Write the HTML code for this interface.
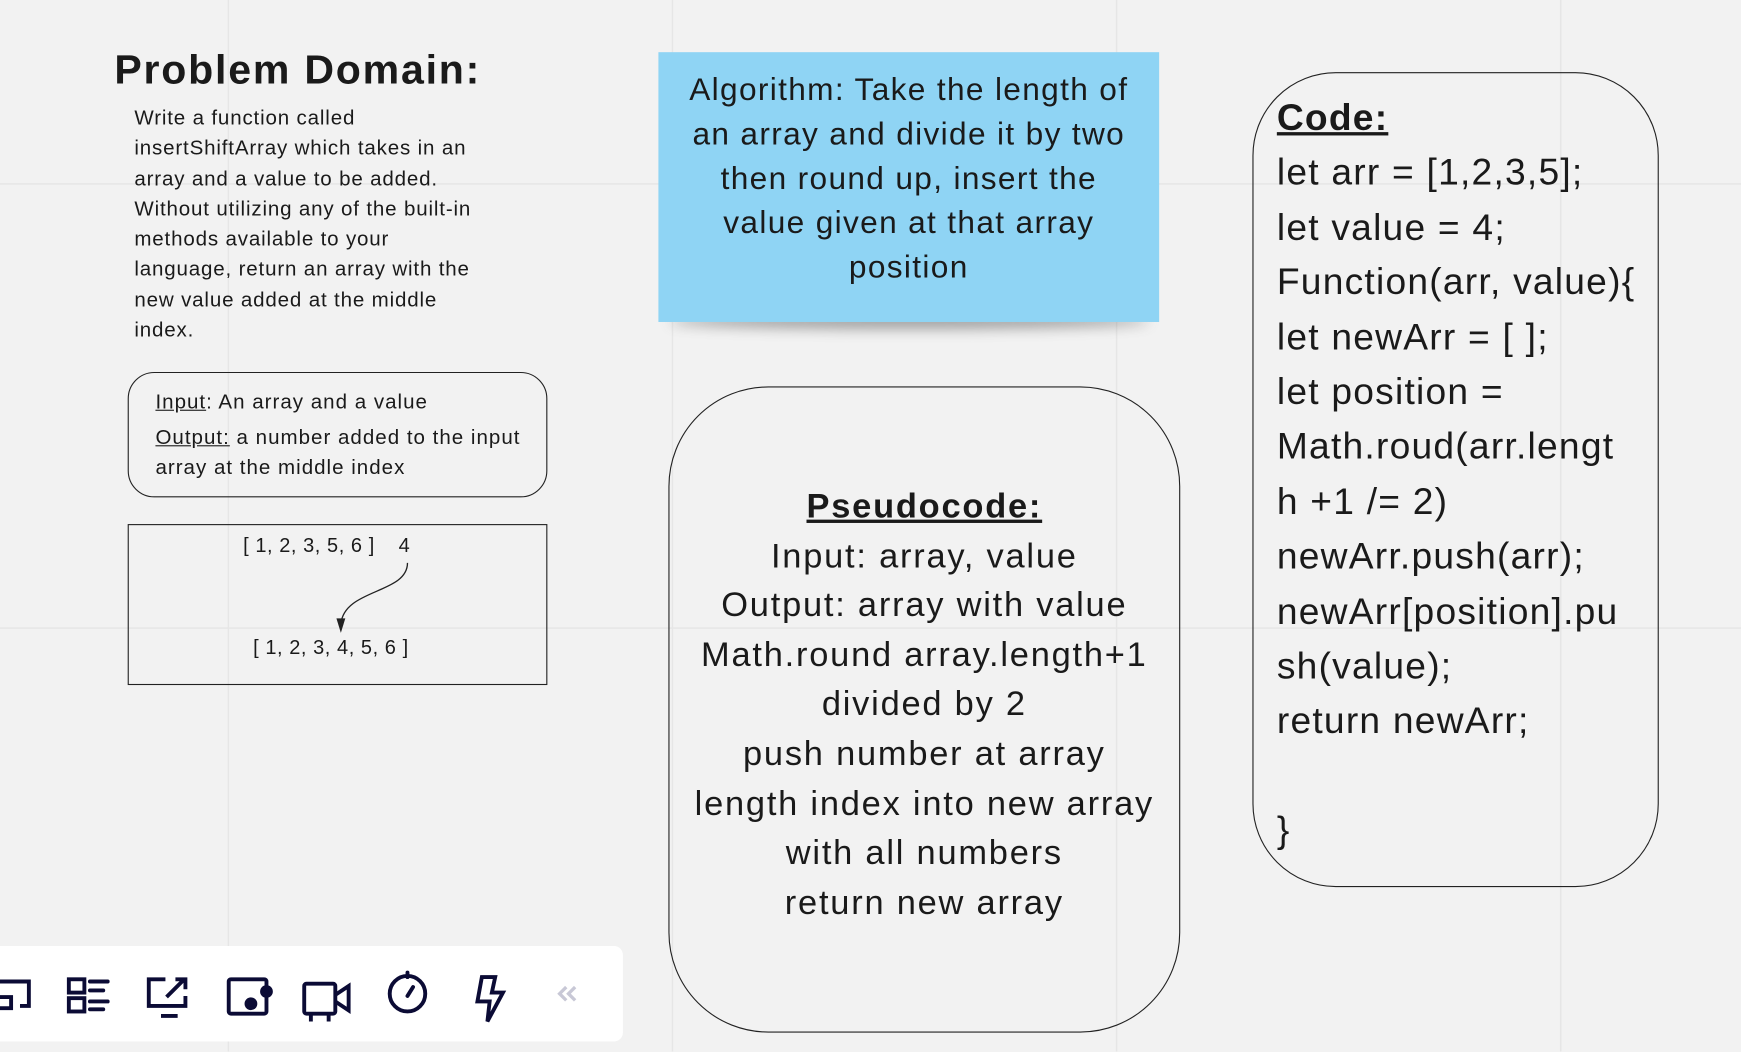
<!DOCTYPE html>
<html><head><meta charset="utf-8"><style>
html,body{margin:0;padding:0;width:1741px;height:1052px;overflow:hidden;background:#f2f2f2;}
#s{position:absolute;left:0;top:0;width:1568px;height:947px;transform:scale(1.1103);transform-origin:0 0;font-family:"Liberation Sans",sans-serif;color:#1a1a1a;
background-image:linear-gradient(to right,#e6e6e6 1.5px,transparent 1.5px),linear-gradient(to bottom,#e6e6e6 1.5px,transparent 1.5px);
background-size:400px 400px;background-position:205px 165px;}
.a{position:absolute;white-space:nowrap;}
.p{position:absolute;left:121px;font-size:18.5px;line-height:27.3px;top:92px;letter-spacing:0.75px;}
.box{position:absolute;border:1.7px solid #222;box-sizing:border-box;}
.c{position:absolute;text-align:center;}
</style></head><body><div id="s">
<div class="a" style="left:103px;top:42px;font-size:37px;font-weight:bold;letter-spacing:1.6px;">Problem Domain:</div>
<div class="p">Write a function called<br>insertShiftArray which takes in an<br>array and a value to be added.<br>Without utilizing any of the built-in<br>methods available to your<br>language, return an array with the<br>new value added at the middle<br>index.</div>

<div class="box" style="left:115px;top:335px;width:378px;height:113px;border-radius:24px;"></div>
<div class="a" style="left:140px;top:348px;font-size:18.5px;line-height:27px;letter-spacing:0.9px;"><u>Input</u>: An array and a value</div>
<div class="a" style="left:140px;top:380px;font-size:18.5px;line-height:27px;letter-spacing:0.9px;"><u>Output:</u> a number added to the input<br>array at the middle index</div>

<div class="box" style="left:115px;top:472px;width:378px;height:145px;border-radius:0;"></div>
<div class="a" style="left:219px;top:481px;font-size:18px;letter-spacing:0.5px;">[ 1, 2, 3, 5, 6 ]</div>
<div class="a" style="left:359px;top:481px;font-size:18px;">4</div>
<div class="a" style="left:228px;top:573px;font-size:18px;letter-spacing:0.5px;">[ 1, 2, 3, 4, 5, 6 ]</div>
<svg style="position:absolute;left:0;top:0" width="600" height="700"><path d="M367 507 C 367 535, 310 530, 307 562" fill="none" stroke="#222" stroke-width="1.2"/><path d="M303 557 L307 570 L311 557 Z" fill="#222"/></svg>

<div style="position:absolute;left:603px;top:282px;width:432px;height:14px;border-radius:50%;background:#555;filter:blur(6px);opacity:.55"></div>
<div style="position:absolute;left:593px;top:47px;width:451px;height:243px;background:#8fd4f4;"></div>
<div class="c" style="left:593px;top:61px;width:451px;font-size:28.5px;line-height:40px;letter-spacing:1.2px;">Algorithm: Take the length of<br>an array and divide it by two<br>then round up, insert the<br>value given at that array<br>position</div>

<div class="box" style="left:602px;top:348px;width:461px;height:582px;border-radius:90px;"></div>
<div class="c" style="left:602px;top:434px;width:461px;font-size:31px;line-height:44.6px;letter-spacing:1.6px;"><span style="font-weight:bold;text-decoration:underline;">Pseudocode: </span><br>Input: array, value<br>Output: array with value<br>Math.round array.length+1<br>divided by 2<br>push number at array<br>length index into new array<br>with all numbers<br>return new array</div>

<div class="box" style="left:1128px;top:65px;width:366px;height:734px;border-radius:75px;"></div>
<div class="a" style="left:1150px;top:82px;font-size:33.5px;line-height:49.4px;letter-spacing:1.1px;"><b><u>Code:</u></b><br>let arr = [1,2,3,5];<br>let value = 4;<br>Function(arr, value){<br>let newArr = [ ];<br>let position =<br>Math.roud(arr.lengt<br>h +1 /= 2)<br>newArr.push(arr);<br>newArr[position].pu<br>sh(value);<br>return newArr;<br><br>}</div>

<div style="position:absolute;left:0;top:852px;width:561px;height:86px;background:#fff;border-radius:0 8px 8px 0;"></div>
<svg style="position:absolute;left:0;top:852px" width="561" height="86" fill="none" stroke="#0b0b35" stroke-width="3.5">
<path d="M0 32 H26 V54 H18 M0 46 H10 V56 H0"/>
<rect x="62" y="30" width="14" height="12"/><rect x="62" y="47" width="14" height="12"/><path d="M81 32 H97 M81 40 H93 M81 50 H97 M81 57 H93" stroke-linecap="round"/>
<path d="M149 30 H134 V54 H167 V45 M145 63 H160 M150 46 L166 30 M158 30 H167 V39"/>
<rect x="206" y="30" width="34" height="31" rx="2"/><circle cx="226" cy="52" r="4" fill="#0b0b35"/><circle cx="240" cy="41" r="4" fill="#0b0b35"/>
<rect x="274" y="34" width="28" height="27" rx="2"/><path d="M302 44 L314 36 V58 L302 50 M280 61 V68 M296 61 V68"/>
<circle cx="367" cy="43" r="16"/><path d="M367 24 V28 M367 45 L372 37" stroke-linecap="round"/>
<path d="M434 28 H446 L443 42 H453 L439 68 L441 50 H430 Z"/>
<path d="M510 37 L504 43 L510 49 M518 37 L512 43 L518 49" stroke="#c8c8d6" stroke-width="3"/>
</svg>
</div></body></html>
